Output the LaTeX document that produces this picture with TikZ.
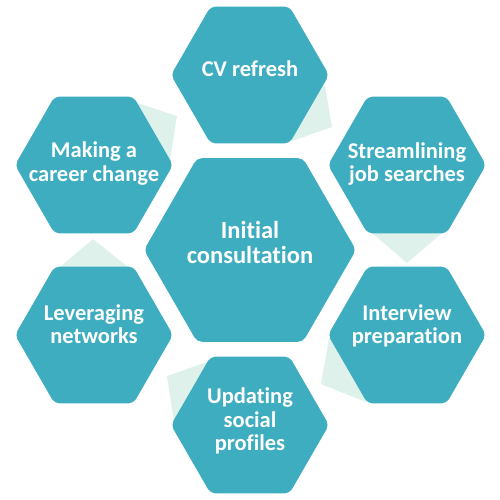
\documentclass[tikz,border=0pt]{standalone}
\usepackage{fontspec}
\setmainfont{Carlito}[Ligatures=NoCommon]
\usetikzlibrary{shapes.geometric}
\definecolor{hexfill}{RGB}{61,173,191}
\definecolor{mint}{RGB}{222,241,235}
\pgfdeclarelayer{background}
\pgfsetlayers{background,main}
\begin{document}
\begin{tikzpicture}[x=1pt,y=-1pt,
  hexbase/.style={regular polygon, regular polygon sides=6, inner sep=0pt, outer sep=0pt, fill=hexfill, rounded corners=5pt},
  hexbig/.style={hexbase, minimum size=212pt},
  hexsmall/.style={hexbase, minimum size=158pt},
  lbl/.style={text=white, font=\bfseries\fontsize{22.5}{23.5}\selectfont, align=center, inner sep=0pt},
  biglbl/.style={text=white, font=\bfseries\fontsize{24.5}{24.5}\selectfont, align=center, inner sep=0pt},
  arrowtri/.style={fill=mint}]
\useasboundingbox (0,0) rectangle (500,500);
% hexagons
\node[hexbig]   (hic) at (250,250) {};
\node[hexsmall] (hcv) at (250,75)  {};
\node[hexsmall] (hsj) at (407,165) {};
\node[hexsmall] (hip) at (407,335) {};
\node[hexsmall] (hus) at (250,425) {};
\node[hexsmall] (hln) at (94,335)  {};
\node[hexsmall] (hmc) at (94,165)  {};
% connecting triangles (behind)
\begin{pgfonlayer}{background}
\fill[arrowtri] (hcv.center) -- (325,86) -- (332,127) -- (292,141) -- cycle;
\fill[arrowtri] (hsj.center) -- (372,233) -- (407,263) -- (442,233) -- cycle;
\fill[arrowtri] (hip.center) -- (329,338) -- (321,384) -- (366,402) -- cycle;
\fill[arrowtri] (hus.center) -- (207,362) -- (167,376) -- (174,422) -- cycle;
\fill[arrowtri] (hln.center) -- (60,267) -- (93,239) -- (128,267) -- cycle;
\fill[arrowtri] (hmc.center) -- (137,103) -- (177,116) -- (170,160) -- cycle;
\end{pgfonlayer}
% labels
\node[biglbl] (tic) at (250,242.5) {Initial\\consultation};
\node[lbl] (tcv) at (250,68.5)  {CV refresh};
\node[lbl] (tsj) at (407,164) {Streamlining\\job searches};
\node[lbl] (tip) at (407,326) {Interview\\preparation};
\node[lbl] (tus) at (250,421) {Updating\\social\\profiles};
\node[lbl] (tln) at (94,324)  {Leveraging\\networks};
\node[lbl] (tmc) at (94,163.5)  {Making a\\career change};
\end{tikzpicture}
\end{document}
